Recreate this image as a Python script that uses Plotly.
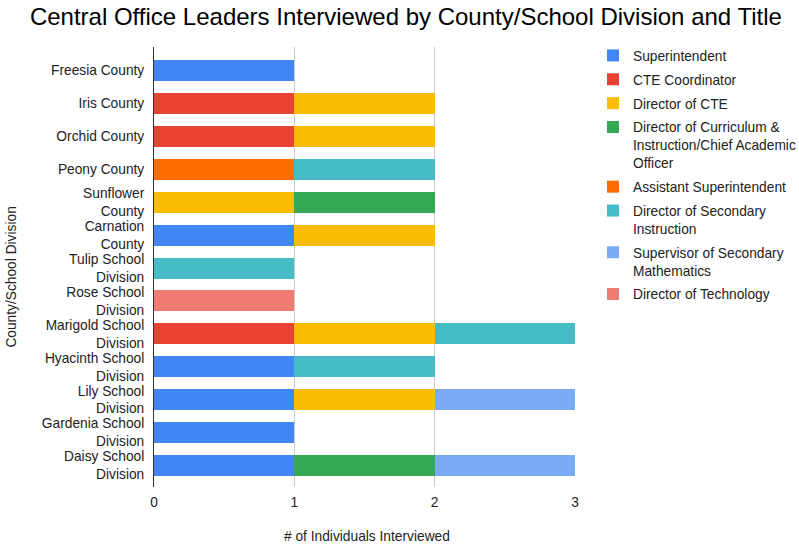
import plotly.graph_objects as go

# Categories (top to bottom) and interview counts per title
divisions = [
    "Freesia County", "Iris County", "Orchid County", "Peony County",
    "Sunflower<br>County", "Carnation<br>County", "Tulip School<br>Division",
    "Rose School<br>Division", "Marigold School<br>Division",
    "Hyacinth School<br>Division", "Lily School<br>Division",
    "Gardenia School<br>Division", "Daisy School<br>Division",
]

superintendent      = [1, 0, 0, 0, 0, 1, 0, 0, 0, 1, 1, 1, 1]
cte_coordinator     = [0, 1, 1, 0, 0, 0, 0, 0, 1, 0, 0, 0, 0]
director_cte        = [0, 1, 1, 0, 1, 1, 0, 0, 1, 0, 1, 0, 0]
director_curriculum = [0, 0, 0, 0, 1, 0, 0, 0, 0, 0, 0, 0, 1]
asst_superintendent = [0, 0, 0, 1, 0, 0, 0, 0, 0, 0, 0, 0, 0]
director_secondary  = [0, 0, 0, 1, 0, 0, 1, 0, 1, 1, 0, 0, 0]
supervisor_math     = [0, 0, 0, 0, 0, 0, 0, 0, 0, 0, 1, 0, 1]
director_technology = [0, 0, 0, 0, 0, 0, 0, 1, 0, 0, 0, 0, 0]

x_ticks = [0, 1, 2, 3]

series = [
    ("Superintendent", superintendent, "#4285F4"),
    ("CTE Coordinator", cte_coordinator, "#EA4335"),
    ("Director of CTE", director_cte, "#FBBC04"),
    ("Director of Curriculum &<br>Instruction/Chief Academic<br>Officer",
     director_curriculum, "#34A853"),
    ("Assistant Superintendent", asst_superintendent, "#FF6D01"),
    ("Director of Secondary<br>Instruction", director_secondary, "#46BDC6"),
    ("Supervisor of Secondary<br>Mathematics", supervisor_math, "#7BAAF7"),
    ("Director of Technology", director_technology, "#F07B72"),
]

FS = 13.75
TXT = "#222222"

fig = go.Figure()
for i, (name, vals, color) in enumerate(series):
    fig.add_trace(go.Bar(
        y=divisions, x=vals, name=name, orientation="h",
        marker=dict(color=color, line=dict(width=0)),
        legendgroup=f"g{i}",
    ))

fig.update_layout(
    barmode="stack",
    bargap=0.362,
    width=799, height=546,
    margin=dict(l=154, r=224, t=47, b=59, autoexpand=False),
    paper_bgcolor="white", plot_bgcolor="white",
    font=dict(family="Liberation Sans, Arial, sans-serif", size=FS, color=TXT),
    title=dict(
        text="Central Office Leaders Interviewed by County/School Division and Title",
        x=0.508, xanchor="center", y=0.969, yanchor="middle",
        font=dict(size=24, color="#000000"),
    ),
    xaxis=dict(
        range=[0, 3], tickvals=x_ticks, showgrid=True,
        gridcolor="#CCCCCC", gridwidth=1, zeroline=False,
        showline=False, ticks="", ticklabelstandoff=5,
        tickfont=dict(size=FS, color=TXT),
        automargin=False, fixedrange=True,
    ),
    yaxis=dict(
        range=[12.653, -0.714], showgrid=False, zeroline=False,
        showline=True, linecolor="#333333", linewidth=1, ticks="",
        ticklabelstandoff=6,
        tickfont=dict(size=FS, color=TXT),
        automargin=False, fixedrange=True,
    ),
    legend=dict(
        xref="container", x=593 / 799, xanchor="left",
        y=1.016, yanchor="top",
        font=dict(size=FS, color=TXT),
        traceorder="grouped", tracegroupgap=3, valign="top",
        itemwidth=30,
    ),
    annotations=[
        dict(text="# of Individuals Interviewed", xref="paper", yref="paper",
             x=0.507, y=-0.1114, xanchor="center", yanchor="middle",
             showarrow=False, font=dict(size=FS, color=TXT)),
        dict(text="County/School Division", xref="paper", yref="paper",
             x=-0.3385, y=0.477, xanchor="center", yanchor="middle",
             textangle=-90, showarrow=False, font=dict(size=FS, color=TXT)),
    ],
    showlegend=True,
)

fig.write_html("out.html")
